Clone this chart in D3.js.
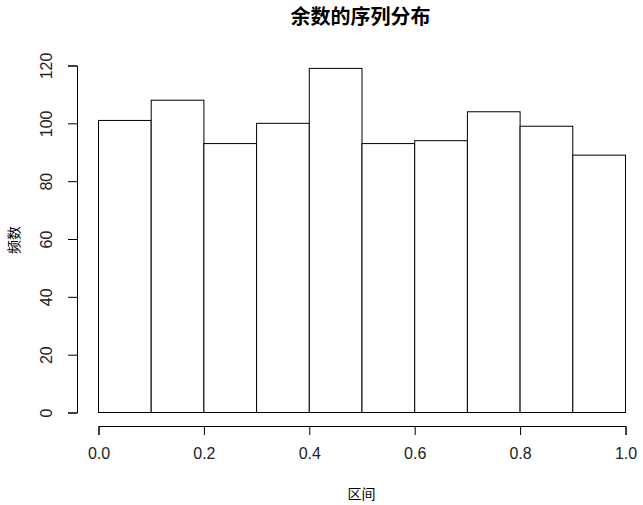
<!DOCTYPE html>
<html>
<head>
<meta charset="utf-8">
<script src="https://cdn.jsdelivr.net/npm/d3@7"></script>
<style>
  body { margin: 0; background: #fff; }
  text { font-family: "Liberation Sans", Arial, sans-serif; }
</style>
</head>
<body>
<script>
// histogram of remainders, 10 bins on [0,1]
var binEdges = [0, 0.1, 0.2, 0.3, 0.4, 0.5, 0.6, 0.7, 0.8, 0.9, 1.0];
var counts = [101, 108, 93, 100, 119, 93, 94, 104, 99, 89];
var xTicks = [0, 0.2, 0.4, 0.6, 0.8, 1.0];
var yTicks = [0, 20, 40, 60, 80, 100, 120];

var width = 643, height = 505;

var svg = d3.select("body").append("svg")
  .attr("width", width)
  .attr("height", height);

var x = d3.scaleLinear().domain([0, 1]).range([98.5, 625.5]);
var y = d3.scaleLinear().domain([0, 120]).range([412.5, 65.5]);

var bins = counts.map((c, i) => ({x0: binEdges[i], x1: binEdges[i + 1], n: c}));

svg.append("g")
  .selectAll("rect")
  .data(bins)
  .enter()
  .append("rect")
  .attr("x", d => x(d.x0))
  .attr("y", d => y(d.n))
  .attr("width", d => x(d.x1) - x(d.x0))
  .attr("height", d => y(0) - y(d.n))
  .attr("fill", "white")
  .attr("stroke", "black")
  .attr("stroke-width", 1);

// x axis, R style: offset below plot
var xAxis = svg.append("g")
  .attr("transform", "translate(0,426)")
  .call(d3.axisBottom(x).tickValues(xTicks).tickFormat(d3.format(".1f")).tickSize(9).tickPadding(13));

// y axis
var yAxis = svg.append("g")
  .attr("transform", "translate(77,0)")
  .call(d3.axisLeft(y).tickValues(yTicks).tickSize(9).tickPadding(0));

yAxis.selectAll(".tick text")
  .attr("transform", "rotate(-90)")
  .attr("text-anchor", "middle")
  .attr("x", 0)
  .attr("dy", 0)
  .attr("y", -25);

[xAxis, yAxis].forEach(a => {
  a.select(".domain").attr("stroke", "black");
  a.selectAll(".tick line").attr("stroke", "black");
  a.selectAll("text").attr("fill", "#222").style("font-size", "16px")
    .style("font-family", "'Liberation Sans', Arial, sans-serif");
});

svg.append("text")
  .attr("x", 360.5)
  .attr("y", 24)
  .attr("text-anchor", "middle")
  .style("font-family", "'Noto Sans CJK SC', sans-serif")
  .style("font-weight", "bold")
  .style("font-size", "20px")
  .text("余数的序列分布");

svg.append("text")
  .attr("x", 361.5)
  .attr("y", 499)
  .attr("text-anchor", "middle")
  .style("font-family", "'Noto Sans CJK SC', sans-serif")
  .style("font-size", "14px")
  .text("区间");

svg.append("text")
  .attr("transform", "translate(19,240) rotate(-90)")
  .attr("text-anchor", "middle")
  .style("font-family", "'Noto Sans CJK SC', sans-serif")
  .style("font-size", "14px")
  .text("频数");
</script>
</body>
</html>
